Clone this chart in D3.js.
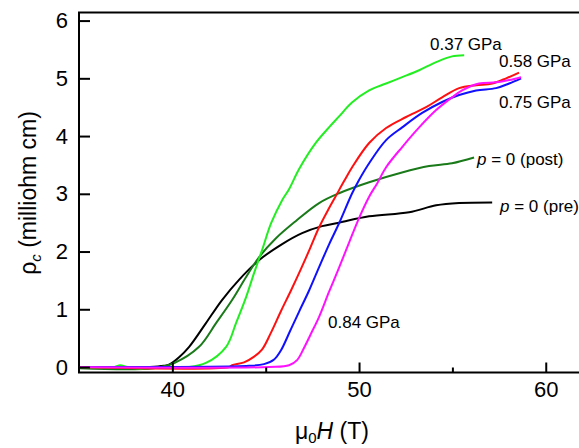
<!DOCTYPE html>
<html>
<head>
<meta charset="utf-8">
<script src="https://cdn.jsdelivr.net/npm/d3@7"></script>
<style>
  body { margin: 0; background: #fff; }
  svg { display: block; font-family: Arial, "Liberation Sans", sans-serif; }
</style>
</head>
<body>
<div id="chart"></div>
<script>
// Field (T) and resistivity (milliohm cm)
const preH = [35, 38.8, 39.55, 39.82, 40.36, 40.9, 41.8, 42.66, 43.57, 44.64, 45.88, 46.95, 48.02, 48.93, 50.54, 52.68, 54.13, 55.36, 57.13];
const preR = [0, 0, 0.02, 0.04, 0.17, 0.35, 0.76, 1.16, 1.51, 1.85, 2.13, 2.32, 2.44, 2.50, 2.61, 2.68, 2.80, 2.84, 2.85];

const postH = [35, 39.0, 40.1, 41.43, 42.34, 43.2, 43.95, 44.64, 45.55, 46.62, 47.86, 48.93, 50.54, 52.30, 53.75, 54.98, 56.16];
const postR = [-0.02, -0.02, 0.07, 0.35, 0.76, 1.16, 1.56, 1.90, 2.23, 2.53, 2.84, 3.01, 3.20, 3.37, 3.48, 3.53, 3.63];

const g037H = [35, 36.9, 37.2, 37.6, 38.3, 39.0, 40.9, 41.8, 42.88, 43.41, 43.95, 44.38, 44.81, 45.29, 45.88, 46.25, 46.79, 47.7, 48.39, 48.93, 49.62, 50.54, 51.45, 52.31, 53.22, 54.13, 54.98, 55.63];
const g037R = [0, 0, 0.03, 0, -0.03, 0, 0, 0.07, 0.35, 0.76, 1.21, 1.63, 2.03, 2.49, 2.89, 3.08, 3.43, 3.89, 4.15, 4.34, 4.58, 4.79, 4.91, 5.02, 5.14, 5.28, 5.38, 5.40];

const g058H = [35, 43.04, 43.2, 43.84, 44.38, 44.8, 45.29, 45.82, 46.36, 46.89, 47.37, 47.86, 48.39, 48.77, 49.2, 49.63, 50.54, 51.45, 52.52, 53.59, 54.45, 55.36, 56.27, 57.13, 57.88, 58.57];
const g058R = [0, 0, 0.03, 0.08, 0.18, 0.30, 0.60, 0.97, 1.33, 1.70, 2.05, 2.42, 2.75, 2.97, 3.22, 3.46, 3.88, 4.14, 4.33, 4.50, 4.67, 4.83, 4.88, 4.91, 5.00, 5.10];

const g075H = [35, 44.11, 44.91, 45.45, 45.82, 46.3, 46.79, 47.33, 47.86, 48.39, 48.93, 49.63, 50.0, 50.54, 51.45, 52.31, 53.38, 54.45, 55.36, 56.27, 57.34, 58.04, 58.68];
const g075R = [0, 0.02, 0.05, 0.13, 0.29, 0.62, 0.96, 1.33, 1.73, 2.12, 2.49, 3.01, 3.24, 3.53, 3.93, 4.15, 4.40, 4.59, 4.71, 4.79, 4.83, 4.91, 5.00];

const g084H = [35, 45.18, 46.25, 46.68, 47.05, 47.43, 47.86, 48.39, 48.93, 49.46, 50.0, 50.54, 50.97, 51.45, 52.31, 53.22, 54.13, 54.98, 55.52, 56.43, 57.34, 58.04, 58.68];
const g084R = [0, 0, 0.03, 0.12, 0.33, 0.58, 0.87, 1.30, 1.72, 2.15, 2.58, 2.95, 3.18, 3.46, 3.81, 4.15, 4.45, 4.67, 4.79, 4.91, 4.93, 4.97, 5.02];

const seriesNames = ["p = 0 (pre)", "p = 0 (post)", "0.37 GPa", "0.58 GPa", "0.75 GPa", "0.84 GPa"];
const seriesColors = ["#000000", "#1a7a1a", "#22ee22", "#ff1010", "#1010ff", "#ff10ff"];
const seriesH = [preH, postH, g037H, g058H, g075H, g084H];
const seriesR = [preR, postR, g037R, g058R, g075R, g084R];

const yTicks = [0, 1, 2, 3, 4, 5, 6];
const xTicks = [40, 50, 60];
const xMinor = [45, 55];

const W = 579, H = 448;
const plotLeft = 79, plotTop = 12.5, plotBottom = 372.5;

const svg = d3.select("#chart").append("svg")
  .attr("width", W)
  .attr("height", H);

const x = d3.scaleLinear().domain([35, 62]).range([plotLeft, plotLeft + 27 * 18.67]);
const y = d3.scaleLinear().domain([-0.095, 6.14]).range([plotBottom, plotTop]);

// curves
const line = d3.line()
  .x(d => x(d[0]))
  .y(d => y(d[1]))
  .curve(d3.curveCatmullRom.alpha(0.5));

seriesH.forEach((hs, i) => {
  const pts = hs.map((h, j) => [h, seriesR[i][j]]);
  svg.append("path")
    .datum(pts)
    .attr("fill", "none")
    .attr("stroke", seriesColors[i])
    .attr("stroke-width", 2)
    .attr("d", line);
});

// axes, ticks pointing inward
const yAxis = svg.append("g")
  .attr("transform", `translate(${plotLeft},0)`)
  .call(d3.axisLeft(y).tickValues(yTicks).tickFormat(d3.format("d")).tickSizeInner(-11).tickSizeOuter(0).tickPadding(11));
yAxis.select(".domain").remove();
yAxis.selectAll("line").attr("stroke-width", 2);
yAxis.selectAll("text").attr("font-size", 22).attr("font-family", "Arial, 'Liberation Sans', sans-serif").attr("fill", "#000");

const xAxis = svg.append("g")
  .attr("transform", `translate(0,${plotBottom})`)
  .call(d3.axisBottom(x).tickValues(xTicks).tickSizeInner(-10).tickSizeOuter(0).tickPadding(9));
xAxis.select(".domain").remove();
xAxis.selectAll("line").attr("stroke-width", 2);
xAxis.selectAll("text").attr("font-size", 22).attr("font-family", "Arial, 'Liberation Sans', sans-serif").attr("fill", "#000");

const xAxisMinor = svg.append("g")
  .attr("transform", `translate(0,${plotBottom})`)
  .call(d3.axisBottom(x).tickValues(xMinor).tickSizeInner(-5).tickSizeOuter(0).tickFormat(""));
xAxisMinor.select(".domain").remove();
xAxisMinor.selectAll("line").attr("stroke-width", 2);

// frame (right side falls outside the picture)
svg.append("path")
  .attr("d", `M${W},${plotTop}H${plotLeft}V${plotBottom}H${W}`)
  .attr("fill", "none")
  .attr("stroke", "#000")
  .attr("stroke-width", 2);

// series labels
const labels = [
  { text: "0.37 GPa", x: 430, y: 50 },
  { text: "0.58 GPa", x: 499, y: 67 },
  { text: "0.75 GPa", x: 499, y: 108 },
  { text: "0.84 GPa", x: 328, y: 328 }
];
labels.forEach(l => {
  svg.append("text")
    .attr("x", l.x).attr("y", l.y)
    .attr("font-size", 17)
    .attr("fill", "#000")
    .text(l.text);
});

[{ x: 477, y: 165, tail: " = 0 (post)" }, { x: 500, y: 212, tail: " = 0 (pre)" }].forEach(l => {
  const t = svg.append("text")
    .attr("x", l.x).attr("y", l.y)
    .attr("font-size", 17)
    .attr("fill", "#000");
  t.append("tspan").attr("font-style", "italic").text("p");
  t.append("tspan").text(l.tail);
});

// axis titles
const yt = svg.append("text")
  .attr("transform", "translate(36,193) rotate(-90)")
  .attr("text-anchor", "middle")
  .attr("font-size", 23)
  .attr("fill", "#000");
yt.append("tspan").text("ρ");
yt.append("tspan").attr("font-size", 15).attr("font-style", "italic").attr("dy", 5).text("c");
yt.append("tspan").attr("dy", -5).text(" (milliohm cm)");

const xt = svg.append("text")
  .attr("x", 332).attr("y", 439)
  .attr("text-anchor", "middle")
  .attr("font-size", 23)
  .attr("fill", "#000");
xt.append("tspan").text("μ");
xt.append("tspan").attr("font-size", 15).attr("dy", 4).text("0");
xt.append("tspan").attr("font-style", "italic").attr("dy", -4).text("H");
xt.append("tspan").text(" (T)");
</script>
</body>
</html>
